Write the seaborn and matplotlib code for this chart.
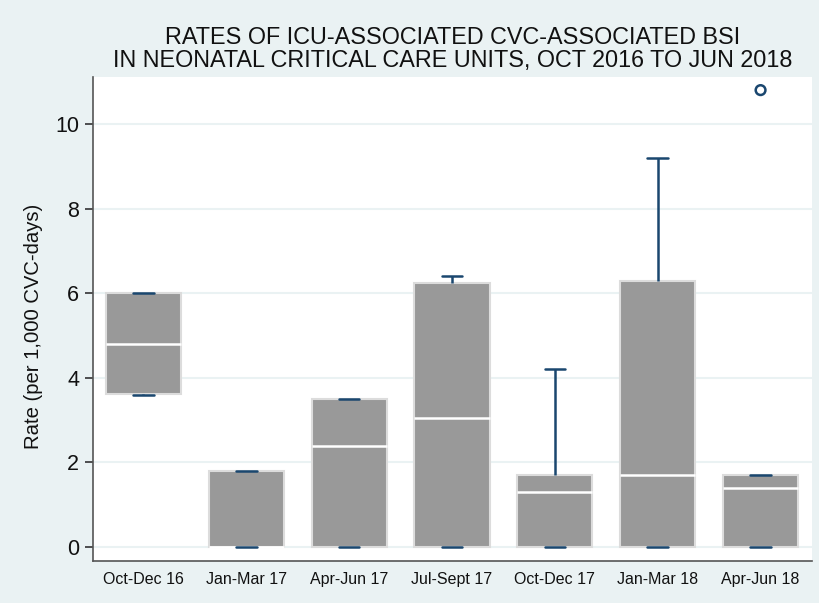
import matplotlib
matplotlib.use("Agg")
import matplotlib.pyplot as plt
import seaborn as sns
import pandas as pd
import numpy as np

categories = ["Oct-Dec 16", "Jan-Mar 17", "Apr-Jun 17", "Jul-Sept 17",
              "Oct-Dec 17", "Jan-Mar 18", "Apr-Jun 18"]
mins    = [3.6, 0.0, 0.0, 0.0, 0.0, 0.0, 0.0]
q1s     = [3.62, 0.0, 0.0, 0.0, 0.0, 0.0, 0.0]
medians = [4.8, 0.0, 2.4, 3.05, 1.3, 1.7, 1.4]
q3s     = [6.0, 1.8, 3.5, 6.25, 1.7, 6.3, 1.7]
maxs    = [6.0, 1.8, 3.5, 6.4, 4.2, 9.2, 1.7]
outlier_cats = ["Apr-Jun 18"]
outlier_vals = [10.8]

rows = []
for c, a, b, m, d, e in zip(categories, mins, q1s, medians, q3s, maxs):
    for v in (a, b, m, d, e):
        rows.append({"period": c, "rate": v})
df = pd.DataFrame(rows)
out_df = pd.DataFrame({"period": outlier_cats, "rate": outlier_vals})

BG = "#EAF2F3"
NAVY = "#1a476f"
BOXC = "#999999"

sns.set_theme(style="white")
plt.rcParams["font.family"] = ["Liberation Sans", "DejaVu Sans"]

fig = plt.figure(figsize=(8.19, 6.03), dpi=100, facecolor=BG)
ax = fig.add_axes([93/819, 1-561/603, (812-93)/819, (561-77)/603])
ax.set_facecolor("white")

sns.boxplot(data=df, x="period", y="rate", order=categories, ax=ax,
            whis=np.inf, width=0.73, color=BOXC, saturation=1,
            linewidth=1.5, showfliers=False,
            boxprops=dict(facecolor=BOXC, edgecolor="#dcdcdc", linewidth=1.5),
            medianprops=dict(color="white", linewidth=1.8),
            whiskerprops=dict(color=NAVY, linewidth=1.8),
            capprops=dict(color=NAVY, linewidth=1.8),
            zorder=3)

# narrow caps
for cont in ax.containers:
    if hasattr(cont, "caps"):
        for cap in cont.caps:
            xd = np.asarray(cap.get_xdata(), dtype=float)
            mid = xd.mean()
            cap.set_xdata([mid - 0.1, mid + 0.1])
            cap.set_zorder(4)

sns.stripplot(data=out_df, x="period", y="rate", order=categories, ax=ax,
              jitter=False, marker="o", size=7, facecolor="none",
              edgecolor=NAVY, linewidth=1.8, color="none", zorder=5)
for coll in ax.collections:
    coll.set_facecolor("none")
    coll.set_edgecolor(NAVY)
    coll.set_linewidth(1.8)

ax.set_xlim(-0.49, 6.5)
ax.set_ylim(-0.33, 11.11)
ax.set_yticks([0, 2, 4, 6, 8, 10])
ax.yaxis.grid(True, color=BG, linewidth=1.5, zorder=0)
ax.set_axisbelow(True)
for s in ("top", "right"):
    ax.spines[s].set_visible(False)
for s in ("left", "bottom"):
    ax.spines[s].set_color("#555555")
    ax.spines[s].set_linewidth(1.2)
ax.tick_params(axis="y", direction="out", length=6, width=1.2, color="#333333",
               labelsize=15.5, pad=4, labelcolor="#111111", left=True)
ax.tick_params(axis="x", length=0, labelsize=11.5, pad=8, labelcolor="#111111")
ax.set_xlabel("")
ax.set_ylabel("Rate (per 1,000 CVC-days)", fontsize=14.6, color="#111111")
ax.yaxis.set_label_coords(-0.0695, 0.485)

fig.text(453/819, 1-37/603, "RATES OF ICU-ASSOCIATED CVC-ASSOCIATED BSI",
         ha="center", va="center", fontsize=16.8, color="#111111")
fig.text(453/819, 1-61/603, "IN NEONATAL CRITICAL CARE UNITS, OCT 2016 TO JUN 2018",
         ha="center", va="center", fontsize=16.8, color="#111111")

fig.savefig("out.png", dpi=100, facecolor=BG)
